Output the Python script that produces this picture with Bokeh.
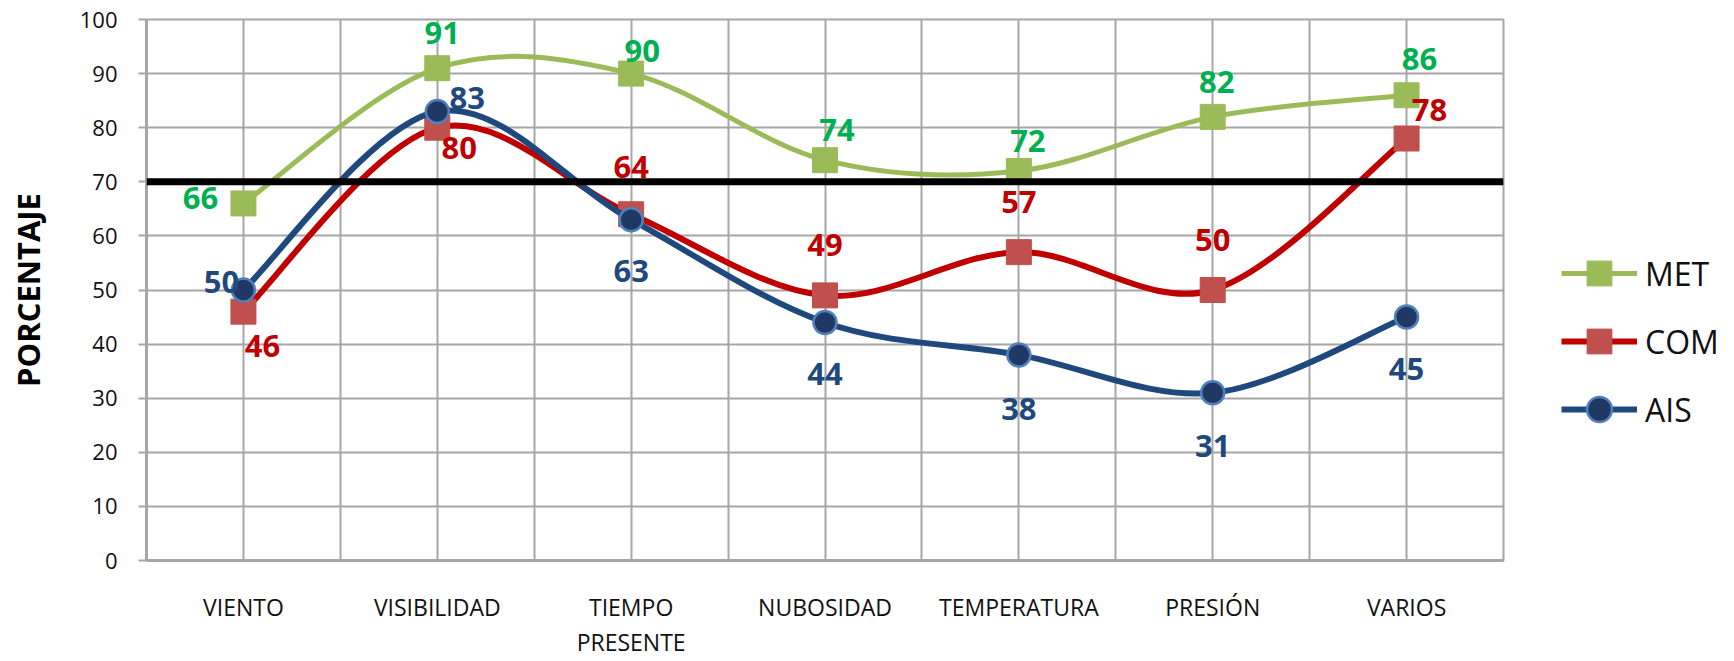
from bokeh.plotting import figure
from bokeh.layouts import row
from bokeh.models import ColumnDataSource, FixedTicker, Legend, LegendItem, Span
from bokeh.embed import file_html
from bokeh.resources import INLINE
from bokeh.core.properties import value

# ---------------- data ----------------
categories = ["VIENTO", "VISIBILIDAD", "TIEMPO\nPRESENTE", "NUBOSIDAD",
              "TEMPERATURA", "PRESIÓN", "VARIOS"]
met = [66, 91, 90, 74, 72, 82, 86]
com = [46, 80, 64, 49, 57, 50, 78]
ais = [50, 83, 63, 44, 38, 31, 45]
threshold = 70
y_ticks = [0, 10, 20, 30, 40, 50, 60, 70, 80, 90, 100]
series_names = ["MET", "COM", "AIS"]

# ---------------- styles ----------------
FONT = "Open Sans"
GRID = "#a6a6a6"
met_line, met_marker, met_text = "#9bbb59", "#9bbb59", "#00b050"
com_line, com_marker, com_text = "#c00000", "#c0504d", "#c00000"
ais_line, ais_marker, ais_edge, ais_text = "#1f497d", "#1f3864", "#4f81bd", "#1f497d"

# label offsets in screen px (positive dy = down)
met_dx = [-43, 5, 11, 12, 9, 4, 13]
met_dy = [-5, -35, -23, -30, -30, -35, -36]
com_dx = [19, 22, 0, 0, 0, 0, 23]
com_dy = [34, 20, -47, -50, -50, -50, -29]
ais_dx = [-22, 30, 0, 0, 0, 0, 0]
ais_dy = [-8, -13, 51, 52, 54, 53, 52]

xpos = [i + 0.5 for i in range(len(categories))]


def smooth_segments(xs, ys):
    """Catmull-Rom style cubic Bezier control points (Excel-like smoothing)."""
    n = len(xs)
    out = dict(x0=[], y0=[], x1=[], y1=[], cx0=[], cy0=[], cx1=[], cy1=[])
    for i in range(n - 1):
        ip = i - 1 if i > 0 else i
        inn = i + 2 if i + 2 < n else i + 1
        out["x0"].append(xs[i]); out["y0"].append(ys[i])
        out["x1"].append(xs[i + 1]); out["y1"].append(ys[i + 1])
        out["cx0"].append(xs[i] + (xs[i + 1] - xs[ip]) / 6)
        out["cy0"].append(ys[i] + (ys[i + 1] - ys[ip]) / 6)
        out["cx1"].append(xs[i + 1] - (xs[inn] - xs[i]) / 6)
        out["cy1"].append(ys[i + 1] - (ys[inn] - ys[i]) / 6)
    return ColumnDataSource(out)


p = figure(width=1513, height=661, x_range=(0, 7), y_range=(0, 100),
           output_backend="svg", toolbar_location=None,
           min_border_left=146, min_border_right=10,
           min_border_top=19, min_border_bottom=101)
p.background_fill_color = "white"
p.border_fill_color = "white"
p.outline_line_color = GRID
p.outline_line_width = 2

# grids
p.xgrid.ticker = FixedTicker(ticks=[i * 0.5 for i in range(2 * len(categories) + 1)])
p.ygrid.ticker = FixedTicker(ticks=y_ticks)
for g in (p.xgrid, p.ygrid):
    g.grid_line_color = GRID
    g.grid_line_width = 2
    g.grid_line_alpha = 1

# x axis
p.xaxis.ticker = FixedTicker(ticks=xpos)
p.xaxis.major_label_overrides = {x: c for x, c in zip(xpos, categories)}
p.xaxis.major_tick_out = 0
p.xaxis.major_tick_in = 0
p.xaxis.minor_tick_out = 0
p.xaxis.axis_line_color = GRID
p.xaxis.axis_line_width = 3
p.xaxis.major_label_standoff = 30
p.xaxis.major_label_text_font = FONT
p.xaxis.major_label_text_font_size = "23px"
p.xaxis.major_label_text_color = "#111111"
p.xaxis.major_label_text_line_height = 1.1

# y axis
p.yaxis.ticker = FixedTicker(ticks=y_ticks)
p.yaxis.axis_line_color = GRID
p.yaxis.axis_line_width = 3
p.yaxis.major_tick_out = 8
p.yaxis.major_tick_in = 0
p.yaxis.major_tick_line_color = GRID
p.yaxis.major_tick_line_width = 2
p.yaxis.minor_tick_out = 0
p.yaxis.minor_tick_in = 0
p.yaxis.major_label_standoff = 21
p.yaxis.major_label_text_font = FONT
p.yaxis.major_label_text_font_size = "22px"
p.yaxis.major_label_text_color = "#111111"
p.yaxis.axis_label = "PORCENTAJE"
p.yaxis.axis_label_text_font = FONT
p.yaxis.axis_label_text_font_style = "bold"
p.yaxis.axis_label_text_font_size = "31px"
p.yaxis.axis_label_text_color = "#000000"
p.yaxis.axis_label_standoff = 28

# threshold line
p.add_layout(Span(location=threshold, dimension="width",
                  line_color="black", line_width=7))

series = [
    (met, met_line, met_marker, None, met_text, "square", met_dx, met_dy, 5),
    (com, com_line, com_marker, None, com_text, "square", com_dx, com_dy, 6),
    (ais, ais_line, ais_marker, ais_edge, ais_text, "circle", ais_dx, ais_dy, 6),
]

# legend lives in a narrow companion figure to the right of the plot;
# its swatch renderers carry the series data but lie outside that panel's ranges
lg = figure(width=1734 - 1513, height=661, output_backend="svg",
            toolbar_location=None, x_axis_type=None, y_axis_type=None,
            min_border=0, x_range=(100, 101), y_range=(1000, 1001))
lg.outline_line_color = None
lg.grid.visible = False
lg.background_fill_color = "white"
lg.border_fill_color = "white"

legend_items = []
for name, (vals, lc, mc, ec, tc, mk, dx, dy, lw) in zip(series_names, series):
    p.bezier(x0="x0", y0="y0", x1="x1", y1="y1", cx0="cx0", cy0="cy0",
             cx1="cx1", cy1="cy1", source=smooth_segments(xpos, vals),
             line_color=lc, line_width=lw)
    src = ColumnDataSource(dict(x=xpos, y=vals, t=[str(v) for v in vals],
                                dx=dx, dy=dy))
    if ec is None:
        mstyle = dict(marker=mk, size=25, fill_color=mc, line_color=mc, line_width=1)
    else:
        mstyle = dict(marker=mk, size=23, fill_color=mc, line_color=ec, line_width=2.5)
    p.scatter("x", "y", source=src, **mstyle)
    p.text("x", "y", text="t", source=src, x_offset="dx", y_offset="dy",
           text_align="center", text_baseline="middle",
           text_font=value(FONT), text_font_style="bold",
           text_font_size="31px", text_color=tc)
    lsrc = ColumnDataSource(dict(x=xpos, y=vals))
    l_line = lg.line("x", "y", source=lsrc, line_color=lc, line_width=lw)
    l_pts = lg.scatter("x", "y", source=lsrc, **mstyle)
    legend_items.append(LegendItem(label=name, renderers=[l_line, l_pts], index=0))

legend = Legend(items=legend_items, location=(48, 120), orientation="vertical",
                glyph_width=76, glyph_height=62, label_height=62,
                spacing=6, padding=0, margin=0, label_standoff=8,
                label_text_font=FONT, label_text_font_size="32px",
                label_text_color="#111111",
                border_line_alpha=0, background_fill_alpha=0)
lg.add_layout(legend)

layout = row(p, lg, spacing=0)
open("out.html", "w").write(file_html(layout, INLINE))
